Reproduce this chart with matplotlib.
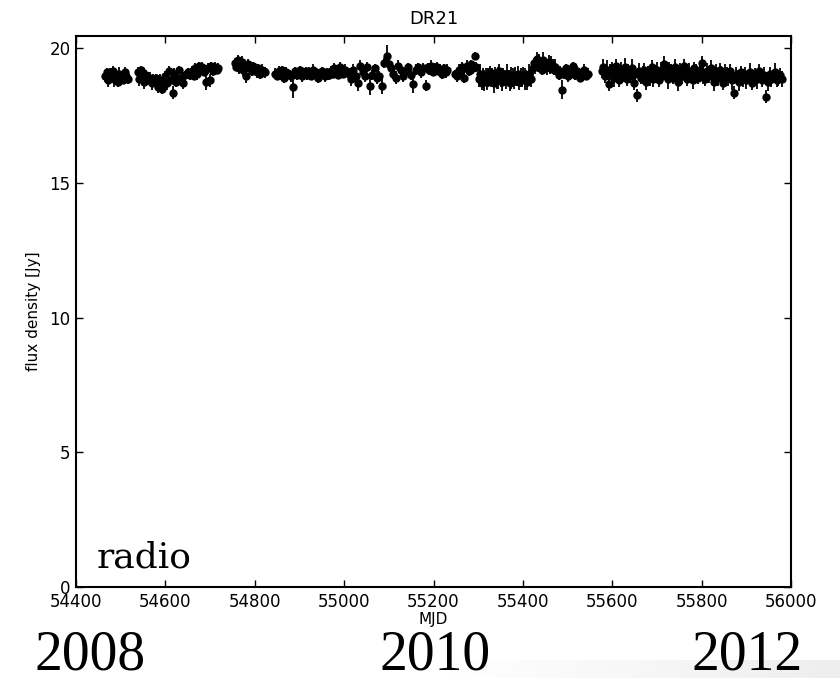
import matplotlib
matplotlib.use("Agg")
import matplotlib.pyplot as plt
import numpy as np

# ── Data ─────────────────────────────────────────────────────────────────────
mjd = [
    54466, 54469, 54472, 54475, 54478, 54482, 54485, 54489, 54493, 54497, 54501, 54505, 54509, 54513, 54517,
    54539, 54542, 54546, 54549, 54553, 54557, 54561, 54565, 54569, 54572,
    54576, 54580, 54584, 54588, 54592, 54596,
    54600, 54604, 54608, 54612, 54616, 54620, 54624, 54627, 54631, 54635, 54639, 54643,
    54651, 54655, 54659, 54663, 54667, 54671, 54675, 54679, 54683, 54687, 54691, 54695, 54699, 54703, 54707, 54711, 54715, 54718,
    54756, 54759, 54762, 54765, 54768, 54771, 54774, 54777, 54780, 54784, 54787, 54790, 54794, 54797, 54800, 54804, 54808, 54812, 54816, 54820, 54824,
    54846, 54850, 54854, 54858, 54862, 54866, 54870, 54874, 54878, 54882,
    54886, 54890, 54894, 54898, 54902, 54906, 54910, 54914, 54918, 54922,
    54926, 54930, 54934, 54938, 54942, 54946, 54950, 54954, 54958, 54962,
    54966, 54970, 54974, 54978, 54982, 54986, 54990, 54994, 54998, 55002,
    55010, 55015, 55020, 55026, 55031, 55036, 55042, 55047, 55052, 55058, 55063, 55068, 55073, 55078, 55084, 55090,
    55096, 55100, 55105, 55110, 55116, 55121, 55127, 55132, 55138, 55143, 55149, 55154, 55160, 55165, 55171, 55176,
    55183, 55187, 55191, 55195, 55199, 55203, 55207, 55211, 55215, 55219, 55223, 55227, 55231,
    55248, 55252, 55256, 55260, 55264, 55268, 55272, 55276, 55280, 55284, 55288, 55292, 55296,
    55302, 55305, 55308, 55311, 55314, 55317, 55320, 55323, 55326, 55329,
    55332, 55335, 55338, 55341, 55344, 55347, 55350, 55353, 55356, 55359,
    55362, 55365, 55368, 55371, 55374, 55377, 55380, 55383, 55386, 55389,
    55392, 55395, 55398, 55401, 55404, 55407, 55410, 55413, 55416, 55419,
    55422, 55425, 55428, 55431, 55434, 55437, 55440, 55443, 55446, 55449, 55452, 55455, 55458, 55461, 55464, 55467, 55470, 55473, 55476,
    55480, 55484, 55488, 55492, 55497, 55502, 55507, 55512, 55517, 55522, 55527, 55532, 55537, 55542, 55546,
    55576, 55580, 55584, 55588, 55592, 55596, 55600, 55604, 55608, 55612,
    55616, 55620, 55624, 55628, 55632, 55636, 55640, 55644, 55648, 55652,
    55656, 55660, 55664, 55668, 55672, 55676, 55680, 55684, 55688, 55692,
    55696, 55700, 55704, 55708, 55712, 55716, 55720, 55724, 55728, 55732,
    55736, 55740, 55744, 55748, 55752, 55756, 55760, 55764, 55768, 55772,
    55776, 55780, 55784, 55788, 55792, 55796, 55800, 55804, 55808, 55812,
    55816, 55820, 55824, 55828, 55832, 55836, 55840, 55844, 55848, 55852,
    55856, 55860, 55864, 55868, 55872, 55876, 55880, 55884, 55888, 55892,
    55896, 55900, 55904, 55908, 55912, 55916, 55920, 55924, 55928, 55932,
    55936, 55940, 55944, 55948, 55952, 55956, 55960, 55964, 55968, 55972,
    55976, 55980,
]

flux = [
    18.95, 19.10, 18.80, 19.05, 18.90, 19.15, 18.85, 19.00, 18.75, 19.05, 18.90, 18.80, 19.10, 18.95, 18.85,
    19.10, 18.85, 19.20, 18.95, 18.75, 19.00, 18.80, 18.90, 18.70, 18.85,
    18.75, 18.90, 18.55, 18.80, 18.50, 18.65,
    18.95, 18.70, 19.15, 18.80, 18.35, 19.05, 18.75, 18.90, 19.20, 18.85, 18.70, 19.00,
    19.10, 19.00, 19.15, 18.95, 19.25, 19.05, 19.35, 19.20, 19.30, 19.10, 18.75, 19.25, 18.80, 19.35, 19.15, 19.30, 19.20, 19.25,
    19.45, 19.30, 19.55, 19.25, 19.40, 19.50, 19.20, 19.35, 18.95, 19.40, 19.25, 19.30, 19.15, 19.35, 19.20, 19.10, 19.25, 19.05, 19.20, 19.15, 19.10,
    19.05, 18.95, 19.15, 19.00, 19.20, 18.90, 19.10, 19.05, 19.00, 18.95,
    18.55, 19.15, 19.00, 19.10, 19.20, 18.95, 19.05, 19.15, 19.00, 19.10,
    18.95, 19.20, 19.05, 19.10, 18.90, 19.00, 19.15, 19.05, 18.95, 19.10,
    19.00, 19.15, 19.05, 19.25, 19.10, 19.00, 19.30, 19.15, 19.05, 19.20,
    19.05, 18.85, 19.20, 18.95, 18.70, 19.35, 19.10, 18.95, 19.30, 18.60, 19.00, 19.25, 18.90, 18.95, 18.60, 19.45,
    19.70, 19.40, 19.25, 19.05, 18.90, 19.35, 19.20, 18.95, 19.15, 19.30, 19.00, 18.65, 19.20, 19.30, 19.10, 19.25,
    18.60, 19.30, 19.20, 19.35, 19.10, 19.25, 19.30, 19.15, 19.20, 19.05, 19.25, 19.10, 19.20,
    19.05, 18.95, 19.20, 19.10, 19.30, 18.90, 19.25, 19.35, 19.15, 19.40, 19.25, 19.70, 19.30,
    18.85, 19.05, 18.70, 18.95, 18.80, 19.00, 18.75, 18.90, 19.10, 18.85,
    18.95, 18.70, 19.05, 18.80, 18.90, 19.15, 18.85, 18.75, 19.00, 18.90,
    18.80, 19.05, 18.95, 18.70, 18.90, 19.00, 18.80, 18.95, 18.85, 19.05,
    18.75, 18.90, 18.80, 19.00, 18.85, 18.95, 18.75, 19.05, 18.90, 18.85,
    19.25, 19.45, 19.35, 19.60, 19.30, 19.50, 19.40, 19.20, 19.55, 19.35, 19.45, 19.30, 19.50, 19.25, 19.40, 19.35, 19.20, 19.30, 19.15,
    19.00, 19.15, 18.45, 19.05, 19.25, 18.95, 19.10, 19.35, 19.00, 19.15, 18.90, 19.05, 19.20, 18.95, 19.05,
    19.15, 19.30, 18.95, 19.20, 18.65, 19.10, 19.25, 18.90, 19.35, 19.05,
    18.80, 19.20, 19.00, 19.30, 18.85, 19.10, 18.95, 19.25, 18.70, 19.05,
    18.25, 19.15, 18.90, 19.00, 19.20, 18.75, 19.10, 18.95, 19.30, 18.85,
    19.05, 19.20, 18.80, 19.15, 18.95, 19.40, 19.00, 18.85, 19.25, 19.10,
    18.90, 19.30, 19.05, 18.75, 19.20, 18.95, 19.35, 19.10, 18.85, 19.15,
    19.00, 18.80, 19.25, 19.05, 18.90, 19.20, 19.45, 19.00, 18.85, 19.15,
    18.95, 19.25, 19.05, 18.75, 19.15, 18.90, 19.20, 19.00, 18.70, 19.10,
    19.05, 18.90, 19.15, 18.80, 18.35, 19.00, 18.95, 18.75, 19.10, 18.85,
    19.05, 18.80, 18.95, 19.10, 18.70, 18.90, 19.00, 18.85, 19.15, 18.95,
    18.80, 19.00, 18.20, 18.75, 19.05, 18.85, 18.95, 19.10, 18.80, 18.90,
    19.00, 18.85,
]

flux_err = [
    0.20, 0.15, 0.25, 0.20, 0.15, 0.20, 0.30, 0.15, 0.20, 0.25, 0.20, 0.15, 0.20, 0.25, 0.20,
    0.20, 0.25, 0.15, 0.20, 0.25, 0.20, 0.15, 0.20, 0.25, 0.20,
    0.20, 0.15, 0.20, 0.25, 0.20, 0.15,
    0.20, 0.25, 0.20, 0.15, 0.25, 0.20, 0.20, 0.25, 0.15, 0.20, 0.20, 0.15,
    0.15, 0.20, 0.20, 0.15, 0.20, 0.25, 0.15, 0.20, 0.20, 0.15, 0.30, 0.20, 0.25, 0.15, 0.20, 0.20, 0.15, 0.20,
    0.20, 0.15, 0.20, 0.20, 0.15, 0.20, 0.25, 0.15, 0.25, 0.20, 0.15, 0.20, 0.20, 0.15, 0.20, 0.20, 0.15, 0.20, 0.20, 0.15, 0.20,
    0.20, 0.15, 0.20, 0.20, 0.15, 0.20, 0.20, 0.15, 0.20, 0.20,
    0.40, 0.15, 0.20, 0.20, 0.15, 0.20, 0.20, 0.15, 0.20, 0.20,
    0.15, 0.20, 0.20, 0.15, 0.20, 0.20, 0.15, 0.20, 0.20, 0.15,
    0.20, 0.20, 0.15, 0.20, 0.20, 0.15, 0.20, 0.20, 0.15, 0.20,
    0.20, 0.25, 0.20, 0.20, 0.30, 0.20, 0.15, 0.20, 0.20, 0.35, 0.20, 0.15, 0.25, 0.20, 0.30, 0.20,
    0.40, 0.20, 0.15, 0.20, 0.25, 0.20, 0.15, 0.20, 0.20, 0.15, 0.20, 0.30, 0.20, 0.15, 0.20, 0.20,
    0.20, 0.15, 0.20, 0.20, 0.15, 0.20, 0.20, 0.15, 0.20, 0.20, 0.15, 0.20, 0.20,
    0.15, 0.20, 0.20, 0.15, 0.20, 0.20, 0.15, 0.20, 0.20, 0.15, 0.20, 0.15, 0.20,
    0.30, 0.35, 0.25, 0.30, 0.40, 0.25, 0.30, 0.35, 0.25, 0.30,
    0.30, 0.35, 0.25, 0.30, 0.40, 0.25, 0.30, 0.35, 0.25, 0.30,
    0.30, 0.35, 0.25, 0.30, 0.40, 0.25, 0.30, 0.35, 0.25, 0.30,
    0.30, 0.35, 0.25, 0.30, 0.40, 0.25, 0.30, 0.35, 0.25, 0.30,
    0.25, 0.20, 0.30, 0.25, 0.20, 0.30, 0.25, 0.20, 0.30, 0.25, 0.20, 0.30, 0.25, 0.20, 0.30, 0.25, 0.20, 0.30, 0.25,
    0.20, 0.20, 0.35, 0.20, 0.15, 0.20, 0.20, 0.15, 0.20, 0.20, 0.15, 0.20, 0.20, 0.15, 0.20,
    0.25, 0.30, 0.25, 0.35, 0.25, 0.30, 0.25, 0.35, 0.25, 0.30,
    0.25, 0.30, 0.25, 0.35, 0.25, 0.30, 0.25, 0.35, 0.25, 0.30,
    0.25, 0.30, 0.25, 0.35, 0.25, 0.30, 0.25, 0.35, 0.25, 0.30,
    0.25, 0.30, 0.25, 0.35, 0.25, 0.30, 0.25, 0.35, 0.25, 0.30,
    0.25, 0.30, 0.25, 0.35, 0.25, 0.30, 0.25, 0.35, 0.25, 0.30,
    0.25, 0.30, 0.25, 0.35, 0.25, 0.30, 0.25, 0.35, 0.25, 0.30,
    0.25, 0.30, 0.25, 0.35, 0.25, 0.30, 0.25, 0.35, 0.25, 0.30,
    0.25, 0.30, 0.25, 0.35, 0.25, 0.30, 0.25, 0.35, 0.25, 0.30,
    0.25, 0.30, 0.25, 0.35, 0.25, 0.30, 0.25, 0.35, 0.25, 0.30,
    0.25, 0.30, 0.25, 0.35, 0.25, 0.30, 0.25, 0.35, 0.25, 0.30,
    0.25, 0.30,
]

x_ticks = [54400, 54600, 54800, 55000, 55200, 55400, 55600, 55800, 56000]
y_ticks = [0, 5, 10, 15, 20]
years = ["2008", "2010", "2012"]

assert len(mjd) == len(flux) == len(flux_err)

# ── Figure ───────────────────────────────────────────────────────────────────
fig = plt.figure(figsize=(8.4, 6.78), dpi=100)
fig.patch.set_facecolor("white")

# faint grey shadow strip at the lower right, as in the slide
shade = fig.add_axes([440 / 840, 0, 400 / 840, 18 / 678], zorder=0)
grad = np.linspace(0, 1, 200)[None, :]
shade.imshow(grad, aspect="auto", cmap="Greys", vmin=0, vmax=7,
             extent=[0, 1, 0, 1])
shade.axis("off")

ax = fig.add_axes([76 / 840, 1 - 587 / 678, 715 / 840, 551 / 678], zorder=2)
ax.errorbar(mjd, flux, yerr=flux_err, fmt="o", color="k", ms=5,
            mec="k", elinewidth=1.3, capsize=0)

ax.set_xlim(54400, 56000)
ax.set_ylim(0, 20.45)
ax.set_xticks(x_ticks)
ax.set_yticks(y_ticks)
ax.tick_params(direction="in", top=True, right=True, length=5, width=1,
               labelsize=12, pad=4)
for s in ax.spines.values():
    s.set_linewidth(1.5)

ax.set_title("DR21", fontsize=13, pad=9)
ax.set_xlabel("MJD", fontsize=11, labelpad=1)
ax.set_ylabel("flux density [Jy]", fontsize=11, labelpad=6)

ax.text(0.029, 0.036, "radio", transform=ax.transAxes, ha="left",
        va="baseline", fontsize=26, family="DejaVu Serif")

for xc, yr in zip([90, 435, 747], years):
    fig.text(xc / 840, 0.013, yr, ha="center", va="baseline", fontsize=40,
             family="Liberation Serif", zorder=3)

fig.savefig("out.png", dpi=100, facecolor="white")
